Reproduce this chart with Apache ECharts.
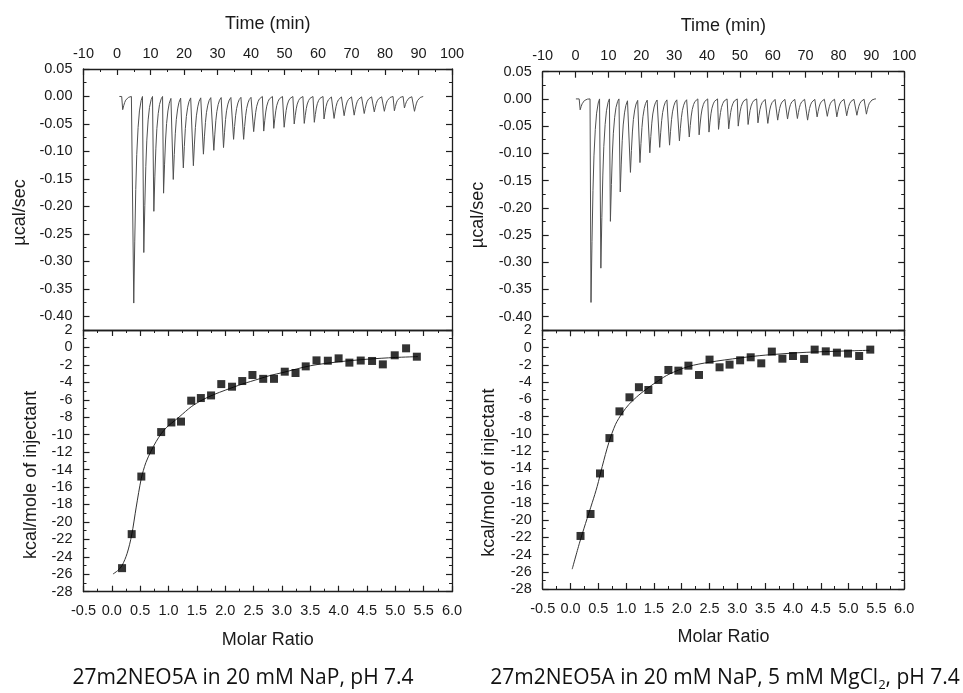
<!DOCTYPE html>
<html><head><meta charset="utf-8">
<script src="https://cdn.jsdelivr.net/npm/echarts@6/dist/echarts.min.js"></script>
<style>html,body{margin:0;padding:0;background:#fff}#c{width:963px;height:693px}</style>
</head><body><div id="c"></div>
<script>
// ---------- tick labels ----------
const timeTicks = [-10, 0, 10, 20, 30, 40, 50, 60, 70, 80, 90, 100];
const powerTicks = [0.05, 0.00, -0.05, -0.10, -0.15, -0.20, -0.25, -0.30, -0.35, -0.40];
const ratioTicks = [-0.5, 0.0, 0.5, 1.0, 1.5, 2.0, 2.5, 3.0, 3.5, 4.0, 4.5, 5.0, 5.5, 6.0];
const heatTicks = [2, 0, -2, -4, -6, -8, -10, -12, -14, -16, -18, -20, -22, -24, -26, -28];

// ---------- raw thermograms (peak tip time in min, peak depth in µcal/sec) ----------
const leftPeakTimes = [1.7, 5.0, 8.0, 11.0, 13.9, 16.8, 19.8, 22.8, 25.8, 28.9, 31.8, 34.8, 37.8, 40.8, 43.8, 46.8, 49.9, 52.9, 55.9, 58.9, 61.8, 64.8, 67.8, 70.8, 73.8, 76.8, 79.8, 82.8, 85.8, 88.8];
const leftPeakDepths = [-0.024, -0.376, -0.284, -0.209, -0.176, -0.151, -0.130, -0.126, -0.105, -0.098, -0.093, -0.078, -0.078, -0.064, -0.063, -0.058, -0.056, -0.050, -0.049, -0.047, -0.041, -0.040, -0.035, -0.034, -0.031, -0.028, -0.027, -0.026, -0.021, -0.027];
const leftBaseline = [0.7, 91.3];

const rightPeakTimes = [1.4, 4.7, 7.7, 10.6, 13.6, 16.7, 19.6, 22.6, 25.6, 28.6, 31.6, 34.6, 37.6, 40.6, 43.5, 46.6, 49.5, 52.5, 55.5, 58.5, 61.5, 64.5, 67.5, 70.6, 73.5, 76.6, 79.5, 82.5, 85.6, 88.5];
const rightPeakDepths = [-0.020, -0.374, -0.311, -0.225, -0.171, -0.135, -0.117, -0.099, -0.089, -0.085, -0.077, -0.070, -0.066, -0.061, -0.056, -0.055, -0.050, -0.047, -0.044, -0.045, -0.039, -0.037, -0.036, -0.039, -0.033, -0.032, -0.033, -0.031, -0.030, -0.028];
const rightBaseline = [0.1, 91.4];

// ---------- integrated heats ----------
const leftRatio = [0.18, 0.35, 0.52, 0.69, 0.87, 1.05, 1.22, 1.40, 1.57, 1.75, 1.93, 2.12, 2.30, 2.48, 2.67, 2.86, 3.05, 3.24, 3.42, 3.61, 3.81, 4.00, 4.19, 4.39, 4.59, 4.78, 4.99, 5.19, 5.38];
const leftHeat = [-25.3, -21.4, -14.8, -11.8, -9.7, -8.6, -8.5, -6.1, -5.8, -5.5, -4.2, -4.5, -3.85, -3.16, -3.6, -3.6, -2.78, -2.93, -2.17, -1.48, -1.52, -1.25, -1.74, -1.5, -1.55, -1.94, -0.9, -0.1, -1.06];
const leftFitRatio = [0.02, 0.10, 0.18, 0.27, 0.35, 0.43, 0.52, 0.60, 0.69, 0.78, 0.87, 0.96, 1.05, 1.20, 1.40, 1.60, 1.80, 2.00, 2.30, 2.60, 2.80, 3.00, 3.50, 4.00, 4.50, 5.00, 5.40];
const leftFitHeat = [-25.97, -25.6, -25.0, -23.6, -21.5, -18.3, -15.0, -13.2, -11.9, -10.8, -9.9, -9.2, -8.7, -7.9, -6.8, -6.0, -5.4, -4.9, -4.2, -3.6, -3.2, -2.9, -2.1, -1.65, -1.35, -1.15, -1.05];

const rightRatio = [0.18, 0.36, 0.53, 0.70, 0.88, 1.06, 1.23, 1.40, 1.58, 1.76, 1.94, 2.12, 2.31, 2.50, 2.68, 2.86, 3.05, 3.24, 3.43, 3.62, 3.81, 4.00, 4.20, 4.39, 4.59, 4.79, 4.99, 5.19, 5.39];
const rightHeat = [-21.85, -19.3, -14.6, -10.5, -7.4, -5.77, -4.6, -4.92, -3.76, -2.6, -2.68, -2.1, -3.18, -1.4, -2.29, -1.98, -1.48, -1.13, -1.83, -0.47, -1.29, -0.98, -1.32, -0.24, -0.44, -0.59, -0.7, -0.98, -0.24];
const rightFitRatio = [0.03, 0.16, 0.27, 0.39, 0.48, 0.57, 0.69, 0.81, 0.93, 1.05, 1.23, 1.41, 1.59, 1.77, 2.12, 2.50, 3.05, 3.50, 4.25, 5.38];
const rightFitHeat = [-25.7, -22.7, -20.4, -18.0, -16.1, -13.8, -11.0, -8.9, -7.6, -6.6, -5.5, -4.6, -3.8, -3.1, -2.2, -1.7, -1.2, -0.88, -0.55, -0.32];

// ---------- captions ----------
const captionLeft = '27m2NEO5A in 20 mM NaP, pH 7.4';
const captionRight = '27m2NEO5A in 20 mM NaP, 5 mM MgCl{sub|2}, pH 7.4';

// ---------- helpers ----------
const pulseOffsets = [-0.3, 0, 0.3, 0.6, 0.9, 1.3, 1.7, 2.2, 2.6];
const pulseFractions = [0, 1, 0.7, 0.45, 0.28, 0.15, 0.07, 0.02, 0];
function buildTrace(times, depths, base) {
  const pts = [[base[0], 0]];
  times.forEach((t, i) => {
    pulseOffsets.forEach((o, k) => pts.push([t + o, depths[i] * pulseFractions[k]]));
  });
  pts.push([base[1], 0]);
  return pts;
}
function zip(a, b) { return a.map((v, i) => [v, b[i]]); }
function mids(arr) {
  const s = arr.slice().sort((a, b) => a - b); const m = [];
  for (let i = 0; i < s.length - 1; i++) m.push((s[i] + s[i + 1]) / 2);
  return m;
}

const INK = '#1e1e1e';
const LBL = 'Liberation Sans, Arial, sans-serif';
const xAxes = [], yAxes = [];

function addAxisSet(list, gridIndex, pos, opp, min, max, majors, fmt, name, nameGap, namePad, mirrorTicks, labelMargin) {
  const line = { onZero: false, lineStyle: { color: INK, width: 1.3 } };
  const base = { type: 'value', gridIndex, min, max, splitLine: { show: false }, axisPointer: { show: false } };
  const minors = mids(majors);
  const mainIdx = list.length;
  list.push(Object.assign({}, base, {
    position: pos,
    axisLine: Object.assign({ show: true }, line),
    axisTick: { show: true, inside: true, length: 6, customValues: majors, lineStyle: { color: INK, width: 1.2 } },
    axisLabel: { show: !!fmt, customValues: majors, formatter: fmt, fontFamily: LBL, fontSize: 14.5, color: '#1a1a1a', margin: labelMargin },
    name: name || '', nameLocation: 'middle', nameGap: nameGap || 0,
    nameTextStyle: { fontFamily: LBL, fontSize: 18, color: '#1a1a1a', padding: namePad || 0 }
  }));
  if (fmt) {
    list.push(Object.assign({}, base, {
      position: pos, axisLine: { show: false, onZero: false },
      axisTick: { show: true, inside: true, length: 3, customValues: minors, lineStyle: { color: INK, width: 1 } },
      axisLabel: { show: false }
    }));
  }
  list.push(Object.assign({}, base, {
    position: opp, axisLine: Object.assign({ show: true }, line),
    axisTick: { show: mirrorTicks, inside: true, length: 6, customValues: majors, lineStyle: { color: INK, width: 1.2 } },
    axisLabel: { show: false }
  }));
  if (mirrorTicks) {
    list.push(Object.assign({}, base, {
      position: opp, axisLine: { show: false, onZero: false },
      axisTick: { show: true, inside: true, length: 3, customValues: minors, lineStyle: { color: INK, width: 1 } },
      axisLabel: { show: false }
    }));
  }
  return mainIdx;
}

const fTime = v => String(Math.round(v));
const fPow = v => v.toFixed(2);
const fRatio = v => v.toFixed(1);
const fHeat = v => String(Math.round(v));

const grids = [
  { left: 83.5, top: 69, width: 368.5, height: 261 },
  { left: 83.5, top: 330, width: 368.5, height: 261.7 },
  { left: 542.7, top: 71.7, width: 361.5, height: 258.5 },
  { left: 542.7, top: 330.3, width: 361.5, height: 258.7 }
].map(g => Object.assign({ outerBoundsMode: 'none', containLabel: false, show: false }, g));

// left top
const x0 = addAxisSet(xAxes, 0, 'top', 'bottom', -10, 100, timeTicks, fTime, 'Time (min)', 36, 0, false, 8);
const y0 = addAxisSet(yAxes, 0, 'left', 'right', -0.425, 0.05, powerTicks, fPow, 'µcal/sec', 54, [0, 26, 0, 0], true, 11);
// left bottom
const x1 = addAxisSet(xAxes, 1, 'bottom', 'top', -0.5, 6.0, ratioTicks, fRatio, 'Molar Ratio', 39, 0, true, 12);
const y1 = addAxisSet(yAxes, 1, 'left', 'right', -28, 2, heatTicks, fHeat, 'kcal/mole of injectant', 43, [0, 28, 0, 0], true, 11);
// right top
const x2 = addAxisSet(xAxes, 2, 'top', 'bottom', -10, 100, timeTicks, fTime, 'Time (min)', 37, 0, false, 8);
const y2 = addAxisSet(yAxes, 2, 'left', 'right', -0.425, 0.05, powerTicks, fPow, 'µcal/sec', 56, [0, 28, 0, 0], true, 11);
// right bottom
const x3 = addAxisSet(xAxes, 3, 'bottom', 'top', -0.5, 6.0, ratioTicks, fRatio, 'Molar Ratio', 39, 0, true, 12);
const y3 = addAxisSet(yAxes, 3, 'left', 'right', -28, 2, heatTicks, fHeat, 'kcal/mole of injectant', 45, [0, 26, 0, 0], true, 11);

const traceStyle = { color: '#505050', width: 1 };
const fitStyle = { color: '#333', width: 1 };
const sq = { symbol: 'rect', symbolSize: 8, itemStyle: { color: '#000' } };

const option = {
  animation: false,
  backgroundColor: '#fff',
  title: [
    { text: captionLeft, left: 243, top: 664, textAlign: 'center', padding: 0,
      textStyle: { fontFamily: 'Open Sans', fontSize: 21, fontWeight: 'normal', color: '#111', lineHeight: 28 } },
    { text: captionRight, left: 725, top: 664, textAlign: 'center', padding: 0,
      textStyle: { fontFamily: 'Open Sans', fontSize: 21, fontWeight: 'normal', color: '#111', lineHeight: 28,
        rich: { sub: { fontFamily: 'Open Sans', fontSize: 13, lineHeight: 13, verticalAlign: 'bottom', color: '#111' } } } }
  ],
  grid: grids,
  xAxis: xAxes,
  yAxis: yAxes,
  series: [
    { type: 'line', xAxisIndex: x0, yAxisIndex: y0, data: buildTrace(leftPeakTimes, leftPeakDepths, leftBaseline),
      showSymbol: false, lineStyle: traceStyle, silent: true },
    { type: 'line', xAxisIndex: x2, yAxisIndex: y2, data: buildTrace(rightPeakTimes, rightPeakDepths, rightBaseline),
      showSymbol: false, lineStyle: traceStyle, silent: true },
    { type: 'line', xAxisIndex: x1, yAxisIndex: y1, data: zip(leftFitRatio, leftFitHeat), smooth: 0.3,
      showSymbol: false, lineStyle: fitStyle, silent: true, z: 1 },
    Object.assign({ type: 'scatter', xAxisIndex: x1, yAxisIndex: y1, data: zip(leftRatio, leftHeat), z: 3 }, sq),
    { type: 'line', xAxisIndex: x3, yAxisIndex: y3, data: zip(rightFitRatio, rightFitHeat), smooth: 0.3,
      showSymbol: false, lineStyle: fitStyle, silent: true, z: 1 },
    Object.assign({ type: 'scatter', xAxisIndex: x3, yAxisIndex: y3, data: zip(rightRatio, rightHeat), z: 3 }, sq)
  ]
};
const chart = echarts.init(document.getElementById('c'), null, { renderer: 'canvas' });
chart.setOption(option);
</script></body></html>
